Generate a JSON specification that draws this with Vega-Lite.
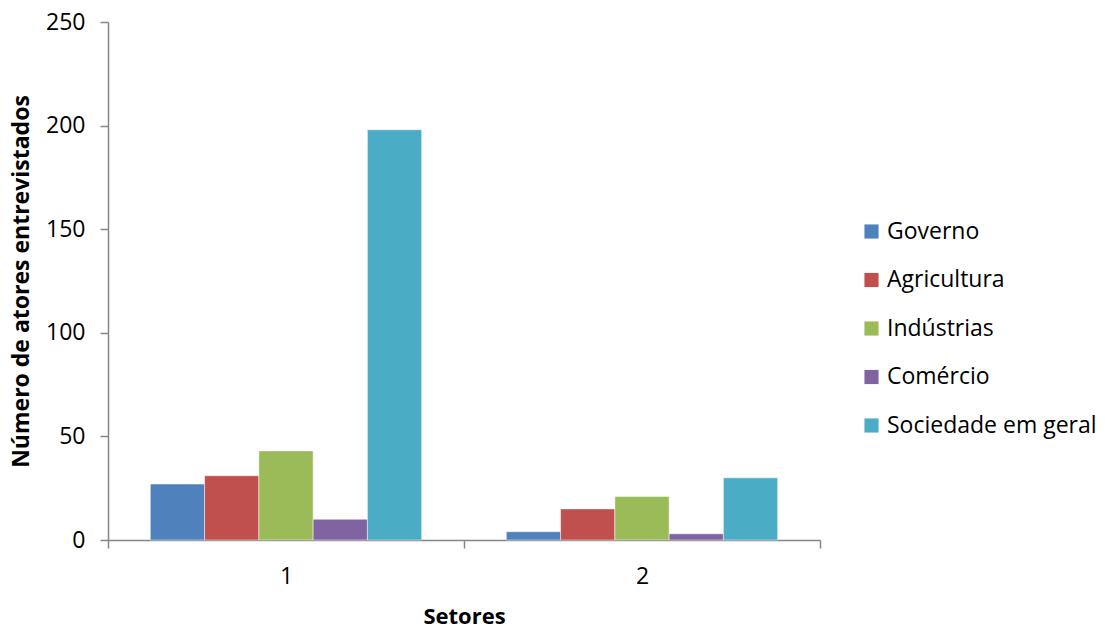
{
  "$schema": "https://vega.github.io/schema/vega-lite/v6.json",
  "width": 712,
  "height": 518,
  "autosize": {"type": "none"},
  "padding": {"left": 108, "top": 22, "right": 285, "bottom": 88},
  "background": "#ffffff",
  "config": {
    "view": {"stroke": null},
    "font": "Open Sans",
    "axis": {"grid": false, "domainColor": "#868686", "tickColor": "#868686", "domainWidth": 1.5, "tickWidth": 1.5, "labelColor": "#000000", "titleColor": "#000000", "labelFont": "Open Sans", "titleFont": "Open Sans"}
  },
  "data": {
    "values": [
      {"setor": "1", "ator": "Governo", "n": 27},
      {"setor": "1", "ator": "Agricultura", "n": 31},
      {"setor": "1", "ator": "Indústrias", "n": 43},
      {"setor": "1", "ator": "Comércio", "n": 10},
      {"setor": "1", "ator": "Sociedade em geral", "n": 198},
      {"setor": "2", "ator": "Governo", "n": 4},
      {"setor": "2", "ator": "Agricultura", "n": 15},
      {"setor": "2", "ator": "Indústrias", "n": 21},
      {"setor": "2", "ator": "Comércio", "n": 3},
      {"setor": "2", "ator": "Sociedade em geral", "n": 30}
    ]
  },
  "mark": {"type": "bar", "stroke": "#ffffff", "strokeWidth": 0.8, "strokeOpacity": 0.6},
  "encoding": {
    "x": {
      "field": "setor", "type": "nominal", "title": "Setores",
      "scale": {"paddingInner": 0, "paddingOuter": 0},
      "axis": {"labelAngle": 0, "tickBand": "extent", "tickSize": 8, "labelPadding": 17, "labelFontSize": 23, "titleFontSize": 22, "titleFontWeight": "bold", "titleY": 76, "titleBaseline": "middle"}
    },
    "xOffset": {
      "field": "ator", "type": "nominal",
      "sort": ["Governo", "Agricultura", "Indústrias", "Comércio", "Sociedade em geral"],
      "scale": {"paddingInner": 0, "paddingOuter": 0.78}
    },
    "y": {
      "field": "n", "type": "quantitative", "title": "Número de atores entrevistados",
      "scale": {"domain": [0, 250]},
      "axis": {"values": [0, 50, 100, 150, 200, 250], "tickSize": 8, "labelPadding": 15, "labelFontSize": 23, "titleFontSize": 23, "titleFontWeight": "bold", "titleX": -87, "titleBaseline": "middle"}
    },
    "color": {
      "field": "ator", "type": "nominal",
      "sort": ["Governo", "Agricultura", "Indústrias", "Comércio", "Sociedade em geral"],
      "scale": {
        "domain": ["Governo", "Agricultura", "Indústrias", "Comércio", "Sociedade em geral"],
        "range": ["#4F81BD", "#C0504D", "#9BBB59", "#8064A2", "#4BACC6"]
      },
      "legend": {
        "title": null, "orient": "none", "legendX": 752, "legendY": 198,
        "symbolType": "square", "symbolSize": 200, "symbolStrokeWidth": 0,
        "labelFontSize": 23, "labelLimit": 400, "labelColor": "#000000", "labelOffset": 4, "rowPadding": 24.5
      }
    }
  }
}
